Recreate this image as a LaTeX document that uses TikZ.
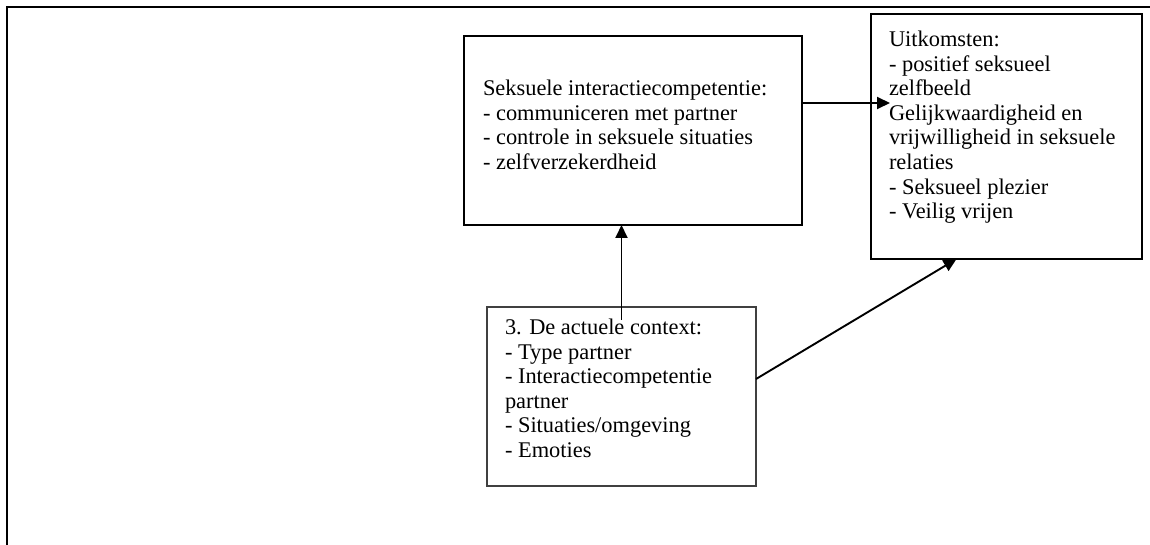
\documentclass[tikz,border=0pt]{standalone}
\usepackage{fontspec}
\setmainfont{Liberation Serif}
\usetikzlibrary{arrows.meta}
\begin{document}
\begin{tikzpicture}[x=1pt,y=-1pt,
  boxst/.style={draw, line width=1.8pt, inner sep=0pt, outer sep=0pt},
  thinbox/.style={draw=black!75, line width=1.1pt, inner sep=0pt, outer sep=0pt},
  txt/.style={anchor=north west, inner sep=0pt, outer sep=0pt, align=left,
    font=\fontsize{22.4}{24.6}\selectfont},
  arr/.style={line width=1.9pt, -{Triangle[length=13pt,width=12pt]}},
  frame/.style={line width=2.5pt}]
\useasboundingbox (0,0) rectangle (1150,545);
% outer frame
\coordinate (fc) at (7,7);
\coordinate (fr) at (1150,7);
\coordinate (fb) at (7,545);
\draw[frame] (fb) -- (fc) -- (fr);
% boxes
\node[boxst, minimum width=338pt, minimum height=189pt] (b1) at (633,130.5) {};
\node[boxst, minimum width=271pt, minimum height=245pt] (b2) at (1006.5,136.5) {};
\node[thinbox, minimum width=269pt, minimum height=179pt] (b3) at (621.5,396.5) {};
% texts
\node[txt] (t1) at (483,80) {Seksuele interactiecompetentie:\\- communiceren met partner\\- controle in seksuele situaties\\- zelfverzekerdheid};
\node[txt] (t2) at (889,31) {Uitkomsten:\\- positief seksueel\\zelfbeeld\\Gelijkwaardigheid en\\vrijwilligheid in seksuele\\relaties\\- Seksueel plezier\\- Veilig vrijen};
\node[txt] (t3) at (505,319) {3. De actuele context:\\- Type partner\\- Interactiecompetentie\\partner\\- Situaties/omgeving\\- Emoties};
% arrows
\coordinate (a1s) at ([yshift=27.5pt]b1.east);
\draw[arr] (a1s) -- ([xshift=19pt]a1s -| b2.west);
\draw[arr] ([yshift=-13pt]b3.north) -- (b3.north |- b1.south);
\draw[arr] ([yshift=17.5pt]b3.east) -- ([xshift=-50pt]b2.south);
\end{tikzpicture}
\end{document}
